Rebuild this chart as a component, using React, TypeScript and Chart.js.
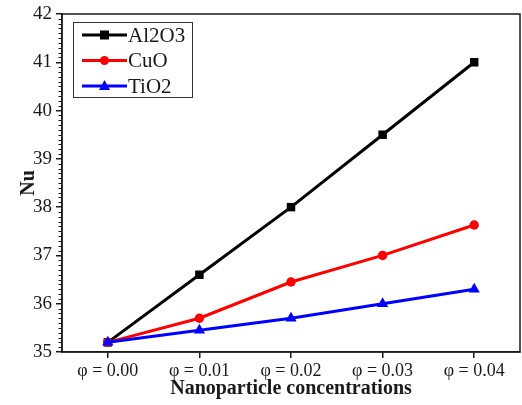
import React, { useEffect, useRef } from "react";
import { Chart, registerables } from "chart.js";

Chart.register(...registerables);

const categories = ["φ = 0.00", "φ = 0.01", "φ = 0.02", "φ = 0.03", "φ = 0.04"];
const al2o3Values = [35.2, 36.6, 38.0, 39.5, 41.0];
const cuoValues = [35.2, 35.7, 36.45, 37.0, 37.63];
const tio2Values = [35.2, 35.45, 35.7, 36.0, 36.3];
const seriesNames = ["Al2O3", "CuO", "TiO2"];
const yMin = 35;
const yMax = 42;
const xTitle = "Nanoparticle concentrations";
const yTitle = "Nu";

const FONT = "'Liberation Serif', 'Times New Roman', serif";
const INK = "#1a1a1a";

const framePlugin = {
  id: "frameAndLegend",
  afterDraw(chart: any) {
    const { ctx, chartArea } = chart;
    const y = chart.scales.y;
    ctx.save();
    // frame
    ctx.strokeStyle = INK;
    ctx.lineWidth = 1.5;
    ctx.strokeRect(chartArea.left, chartArea.top, chartArea.right - chartArea.left, chartArea.bottom - chartArea.top);
    // minor ticks on y
    ctx.lineWidth = 1;
    const steps = Math.round((yMax - yMin) * 10);
    for (let i = 0; i <= steps; i++) {
      if (i % 10 === 0) continue;
      const py = Math.round(y.getPixelForValue(yMin + i / 10)) + 0.5;
      ctx.beginPath();
      ctx.moveTo(chartArea.left - 3.5, py);
      ctx.lineTo(chartArea.left, py);
      ctx.stroke();
    }
    // legend
    const bx = chartArea.left + 11;
    const by = chartArea.top + 8;
    const bw = 119;
    const bh = 75;
    ctx.fillStyle = "#fff";
    ctx.fillRect(bx, by, bw, bh);
    ctx.strokeStyle = "#333";
    ctx.lineWidth = 1;
    ctx.strokeRect(bx + 0.5, by + 0.5, bw, bh);
    const order = [0, 1, 2];
    order.forEach((di, row) => {
      const ds = chart.data.datasets[di];
      const cy = by + 13 + row * 25.5;
      const x0 = bx + 9;
      const x1 = bx + 54;
      ctx.strokeStyle = ds.borderColor;
      ctx.lineWidth = 3;
      ctx.beginPath();
      ctx.moveTo(x0, cy);
      ctx.lineTo(x1, cy);
      ctx.stroke();
      const mx = (x0 + x1) / 2;
      ctx.fillStyle = ds.backgroundColor;
      ctx.beginPath();
      if (ds.pointStyle === "rect") {
        ctx.rect(mx - 4.5, cy - 4.5, 9, 9);
      } else if (ds.pointStyle === "circle") {
        ctx.arc(mx, cy, 4.5, 0, Math.PI * 2);
      } else {
        ctx.moveTo(mx, cy - 6);
        ctx.lineTo(mx + 5.5, cy + 4);
        ctx.lineTo(mx - 5.5, cy + 4);
        ctx.closePath();
      }
      ctx.fill();
      ctx.fillStyle = INK;
      ctx.font = `21px ${FONT}`;
      ctx.textBaseline = "middle";
      ctx.textAlign = "left";
      ctx.fillText(ds.label, x1 + 1, cy + 1);
    });
    ctx.restore();
  },
};

export default function App() {
  const ref = useRef<HTMLCanvasElement | null>(null);
  useEffect(() => {
    if (!ref.current) return;
    const chart = new Chart(ref.current, {
      type: "line",
      data: {
        labels: categories,
        datasets: [
          {
            label: seriesNames[0],
            data: al2o3Values,
            borderColor: "#000000",
            backgroundColor: "#000000",
            borderWidth: 3,
            pointStyle: "rect",
            pointRadius: 6,
            pointBorderWidth: 0,
            order: 3,
          },
          {
            label: seriesNames[1],
            data: cuoValues,
            borderColor: "#ff0000",
            backgroundColor: "#ff0000",
            borderWidth: 3,
            pointStyle: "circle",
            pointRadius: 4.7,
            pointBorderWidth: 0,
            order: 2,
          },
          {
            label: seriesNames[2],
            data: tio2Values,
            borderColor: "#0000ff",
            backgroundColor: "#0000ff",
            borderWidth: 3,
            pointStyle: "triangle",
            pointRadius: 6.5,
            pointBorderWidth: 0,
            order: 1,
          },
        ],
      },
      options: {
        animation: false,
        responsive: true,
        maintainAspectRatio: false,
        layout: { autoPadding: false, padding: { top: 14, right: 2, left: 0, bottom: 0 } },
        plugins: {
          legend: { display: false },
          tooltip: { enabled: false },
        },
        scales: {
          x: {
            type: "category",
            offset: true,
            afterFit: (s: any) => {
              s.height = 53;
              s.paddingLeft = 0;
              s.paddingRight = 0;
            },
            grid: {
              display: true,
              offset: false,
              drawOnChartArea: false,
              drawTicks: true,
              tickLength: 6,
              color: INK,
              lineWidth: 1.5,
            },
            border: { display: true, color: INK, width: 1.5 },
            ticks: {
              color: INK,
              font: { family: FONT, size: 18 },
              padding: 2,
              maxRotation: 0,
            },
            title: {
              display: true,
              text: xTitle,
              color: INK,
              font: { family: FONT, size: 20, weight: "bold" },
              padding: { top: 0, bottom: 4 },
            },
          },
          y: {
            min: yMin,
            max: yMax,
            afterFit: (s: any) => {
              s.width = 62;
              s.paddingTop = 0;
              s.paddingBottom = 0;
            },
            grid: {
              display: true,
              drawOnChartArea: false,
              drawTicks: true,
              tickLength: 6,
              color: INK,
              lineWidth: 1.5,
            },
            border: { display: true, color: INK, width: 1.5 },
            ticks: {
              stepSize: 1,
              color: INK,
              font: { family: FONT, size: 19 },
              padding: 4,
            },
            title: {
              display: true,
              text: yTitle,
              color: INK,
              font: { family: FONT, size: 20, weight: "bold" },
              padding: { top: 17, bottom: 0 },
            },
          },
        },
      },
      plugins: [framePlugin],
    });
    return () => chart.destroy();
  }, []);
  return (
    <div style={{ position: "fixed", left: 0, top: 0, width: 522, height: 405, background: "#fff" }}>
      <canvas ref={ref} />
    </div>
  );
}
